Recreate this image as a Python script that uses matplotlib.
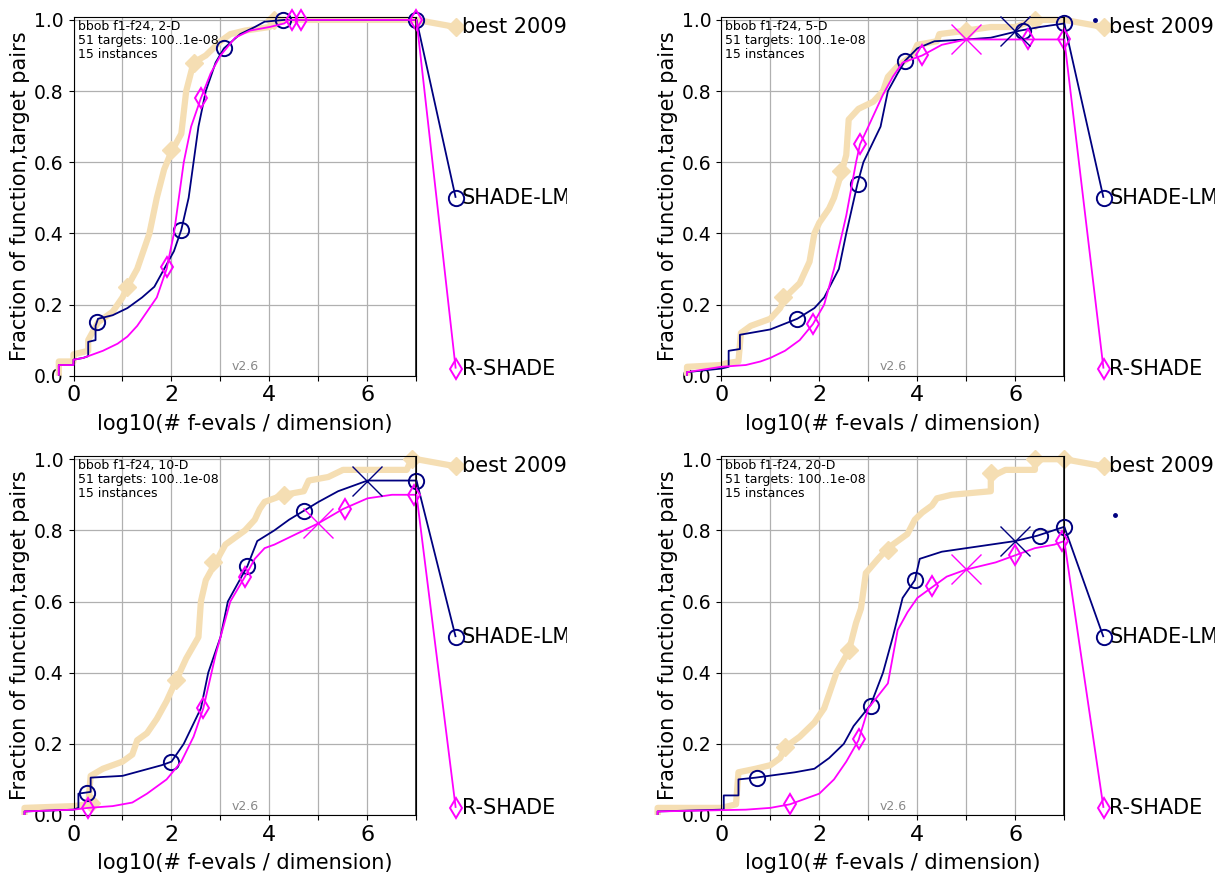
import matplotlib
matplotlib.use('Agg')
import matplotlib.pyplot as plt
from matplotlib.transforms import Bbox, TransformedBbox

# ECDF of runtimes (fraction of function,target pairs) on bbob f1-f24
dims = [2, 5, 10, 20]
algs = ['best 2009', 'SHADE-LM', 'R-SHADE']

# ---- 2-D ----
best_x_2 = [-0.30, -0.30, 0.00, 0.00, 0.30, 0.30, 0.50, 0.80, 1.00, 1.10, 1.30, 1.55, 1.70, 1.85, 2.00,
            2.20, 2.30, 2.45, 2.70, 3.00, 3.20, 3.50, 4.00, 4.20, 7.00]
best_y_2 = [0.00, 0.04, 0.04, 0.06, 0.07, 0.10, 0.15, 0.18, 0.22, 0.25, 0.30, 0.40, 0.50, 0.58, 0.63,
            0.68, 0.80, 0.88, 0.90, 0.94, 0.96, 0.97, 0.98, 1.00, 1.00]
best_mx_2 = [1.10, 2.00, 2.45, 4.10]
best_my_2 = [0.25, 0.635, 0.88, 1.00]
shade_x_2 = [-0.30, -0.30, 0.00, 0.00, 0.20, 0.30, 0.30, 0.45, 0.45, 0.50, 0.80, 1.10, 1.40, 1.65, 1.85,
             2.05, 2.20, 2.35, 2.45, 2.55, 2.70, 2.90, 3.07, 3.40, 3.70, 3.90, 4.30, 7.00]
shade_y_2 = [0.00, 0.03, 0.03, 0.045, 0.05, 0.055, 0.095, 0.10, 0.14, 0.16, 0.17, 0.19, 0.22, 0.25, 0.30,
             0.35, 0.41, 0.50, 0.60, 0.70, 0.80, 0.88, 0.92, 0.96, 0.98, 0.995, 1.00, 1.00]
shade_mx_2 = [0.48, 2.20, 3.07, 4.28, 7.00]
shade_my_2 = [0.15, 0.41, 0.92, 1.00, 1.00]
rshade_x_2 = [-0.30, -0.30, 0.00, 0.00, 0.20, 0.40, 0.60, 0.90, 1.10, 1.30, 1.50, 1.70, 1.90, 2.05, 2.15,
              2.25, 2.40, 2.60, 2.80, 3.00, 3.30, 3.60, 4.00, 4.30, 4.40, 7.00]
rshade_y_2 = [0.00, 0.03, 0.03, 0.045, 0.05, 0.06, 0.07, 0.09, 0.11, 0.14, 0.18, 0.22, 0.30, 0.40, 0.50,
              0.60, 0.70, 0.78, 0.85, 0.90, 0.95, 0.97, 0.98, 0.99, 1.00, 1.00]
rshade_mx_2 = [1.90, 2.60, 4.45, 4.65, 7.00]
rshade_my_2 = [0.305, 0.78, 1.00, 1.00, 1.00]

# ---- 5-D ----
best_x_5 = [-0.70, -0.70, 0.00, 0.10, 0.35, 0.40, 0.60, 1.00, 1.20, 1.30, 1.60, 1.80, 1.90, 2.00, 2.20,
            2.30, 2.45, 2.55, 2.60, 2.80, 3.10, 3.30, 3.40, 3.60, 3.90, 4.00, 4.40, 4.45, 5.00, 5.50,
            6.00, 6.40, 7.00]
best_y_5 = [0.00, 0.025, 0.03, 0.035, 0.04, 0.12, 0.14, 0.16, 0.19, 0.22, 0.26, 0.32, 0.40, 0.43, 0.47,
            0.50, 0.57, 0.62, 0.72, 0.75, 0.77, 0.80, 0.84, 0.87, 0.90, 0.93, 0.94, 0.96, 0.97, 0.98,
            0.98, 1.00, 1.00]
best_mx_5 = [1.25, 2.45, 5.00, 6.40]
best_my_5 = [0.22, 0.575, 0.97, 1.00]
shade_x_5 = [-0.70, -0.70, 0.00, 0.15, 0.15, 0.38, 0.38, 1.00, 1.55, 1.90, 2.10, 2.40, 2.55, 2.78, 2.90,
             3.25, 3.40, 3.60, 3.75, 4.00, 4.35, 5.00, 5.50, 6.10, 6.50, 7.00]
shade_y_5 = [0.00, 0.01, 0.02, 0.025, 0.07, 0.075, 0.115, 0.13, 0.16, 0.19, 0.22, 0.30, 0.40, 0.54, 0.60,
             0.70, 0.80, 0.85, 0.885, 0.92, 0.94, 0.945, 0.95, 0.97, 0.98, 0.99]
shade_mx_5 = [1.55, 2.78, 3.75, 6.15, 7.00]
shade_my_5 = [0.16, 0.54, 0.885, 0.97, 0.99]
rshade_x_5 = [-0.70, -0.70, 0.00, 0.50, 0.80, 1.00, 1.30, 1.60, 1.87, 2.10, 2.30, 2.55, 2.75, 2.83, 3.00,
              3.30, 3.50, 3.70, 4.10, 4.50, 5.00, 7.00]
rshade_y_5 = [0.00, 0.01, 0.025, 0.03, 0.04, 0.05, 0.07, 0.10, 0.145, 0.20, 0.30, 0.45, 0.60, 0.65, 0.70,
              0.79, 0.84, 0.88, 0.90, 0.93, 0.945, 0.945]
rshade_mx_5 = [1.87, 2.83, 4.10, 6.25, 7.00]
rshade_my_5 = [0.145, 0.65, 0.90, 0.945, 0.945]

# ---- 10-D ----
best_x_10 = [-1.00, -1.00, 0.00, 0.30, 0.35, 0.60, 1.00, 1.20, 1.30, 1.50, 1.70, 1.90, 2.10, 2.30, 2.55,
             2.60, 2.70, 2.90, 3.10, 3.50, 3.70, 3.80, 3.90, 4.30, 4.70, 4.80, 5.20, 5.50, 6.80, 6.90, 7.00]
best_y_10 = [0.00, 0.02, 0.025, 0.03, 0.11, 0.13, 0.15, 0.17, 0.21, 0.23, 0.27, 0.32, 0.38, 0.44, 0.50,
             0.60, 0.66, 0.71, 0.76, 0.80, 0.83, 0.86, 0.88, 0.90, 0.91, 0.94, 0.95, 0.97, 0.97, 1.00, 1.00]
best_mx_10 = [0.35, 2.10, 2.85, 4.30, 6.90]
best_my_10 = [0.035, 0.38, 0.71, 0.90, 1.00]
shade_x_10 = [-1.00, -1.00, 0.00, 0.10, 0.10, 0.35, 0.35, 1.00, 1.40, 1.80, 2.00, 2.25, 2.60, 2.75, 3.00,
              3.15, 3.35, 3.55, 3.75, 4.10, 4.40, 4.70, 5.00, 5.40, 5.80, 6.00, 7.00]
shade_y_10 = [0.00, 0.01, 0.015, 0.02, 0.06, 0.065, 0.105, 0.11, 0.125, 0.14, 0.15, 0.20, 0.30, 0.40, 0.50,
              0.60, 0.65, 0.70, 0.77, 0.80, 0.83, 0.855, 0.88, 0.91, 0.93, 0.94, 0.94]
shade_mx_10 = [0.28, 2.00, 3.55, 4.70, 7.00]
shade_my_10 = [0.063, 0.15, 0.70, 0.855, 0.94]
rshade_x_10 = [-1.00, -1.00, 0.00, 0.30, 0.80, 1.20, 1.50, 1.90, 2.20, 2.45, 2.65, 2.90, 3.20, 3.50, 3.70,
               3.90, 4.10, 4.40, 4.70, 5.00, 5.50, 6.00, 6.50, 7.00]
rshade_y_10 = [0.00, 0.01, 0.015, 0.02, 0.025, 0.035, 0.06, 0.10, 0.15, 0.22, 0.30, 0.45, 0.60, 0.67, 0.72,
               0.75, 0.76, 0.78, 0.80, 0.82, 0.86, 0.89, 0.90, 0.90]
rshade_mx_10 = [0.30, 2.65, 3.50, 5.55, 6.95]
rshade_my_10 = [0.02, 0.30, 0.67, 0.86, 0.90]

# ---- 20-D ----
best_x_20 = [-1.30, -1.30, 0.00, 0.30, 0.35, 0.70, 1.00, 1.20, 1.30, 1.60, 1.90, 2.10, 2.35, 2.60, 2.75,
             2.85, 2.95, 3.20, 3.40, 3.80, 3.95, 4.10, 4.30, 4.40, 4.70, 5.50, 5.50, 5.80, 6.40, 6.40, 7.00]
best_y_20 = [0.00, 0.02, 0.02, 0.03, 0.12, 0.13, 0.14, 0.16, 0.19, 0.22, 0.26, 0.30, 0.40, 0.46, 0.54,
             0.58, 0.68, 0.72, 0.75, 0.79, 0.83, 0.85, 0.87, 0.89, 0.90, 0.91, 0.95, 0.97, 0.97, 1.00, 1.00]
best_mx_20 = [1.30, 2.60, 3.40, 5.50, 6.40, 7.00]
best_my_20 = [0.19, 0.465, 0.745, 0.96, 1.00, 1.00]
shade_x_20 = [-1.30, -1.30, 0.00, 0.05, 0.05, 0.35, 0.35, 0.70, 1.50, 1.90, 2.20, 2.50, 2.70, 3.05, 3.30,
              3.50, 3.70, 3.95, 4.05, 4.50, 5.00, 5.50, 6.00, 6.45, 7.00]
shade_y_20 = [0.00, 0.01, 0.015, 0.015, 0.055, 0.055, 0.10, 0.105, 0.12, 0.13, 0.16, 0.20, 0.25, 0.31, 0.40,
              0.50, 0.61, 0.66, 0.72, 0.74, 0.75, 0.76, 0.77, 0.785, 0.81]
shade_mx_20 = [0.72, 3.05, 3.95, 6.50, 7.00]
shade_my_20 = [0.105, 0.305, 0.66, 0.785, 0.81]
rshade_x_20 = [-1.30, -1.30, 0.50, 1.00, 1.40, 2.00, 2.30, 2.55, 2.80, 3.00, 3.40, 3.60, 3.80, 4.00, 4.30,
               4.60, 5.00, 5.60, 6.00, 6.40, 6.80, 7.00]
rshade_y_20 = [0.00, 0.01, 0.015, 0.02, 0.03, 0.06, 0.10, 0.15, 0.21, 0.30, 0.37, 0.52, 0.57, 0.61, 0.64,
               0.67, 0.69, 0.71, 0.73, 0.75, 0.76, 0.77]
rshade_mx_20 = [1.40, 2.80, 4.30, 6.00, 6.95]
rshade_my_20 = [0.03, 0.215, 0.645, 0.73, 0.77]

# median of max. evaluations (big crosses): (x, y) for SHADE-LM and R-SHADE, per dimension
shade_cross = {2: None, 5: (6.0, 0.97), 10: (6.0, 0.94), 20: (6.0, 0.77)}
rshade_cross = {2: None, 5: (5.0, 0.945), 10: (5.0, 0.82), 20: (5.0, 0.69)}
# stray small dots next to the labels
dots = {2: None, 5: (7.62, 1.0), 10: None, 20: (8.04, 0.843)}

# label anchor positions right of the budget line
label_x = 7.8
label_y = [0.98, 0.50, 0.02]

curves = {
    2: [(best_x_2, best_y_2, best_mx_2, best_my_2), (shade_x_2, shade_y_2, shade_mx_2, shade_my_2),
        (rshade_x_2, rshade_y_2, rshade_mx_2, rshade_my_2)],
    5: [(best_x_5, best_y_5, best_mx_5, best_my_5), (shade_x_5, shade_y_5, shade_mx_5, shade_my_5),
        (rshade_x_5, rshade_y_5, rshade_mx_5, rshade_my_5)],
    10: [(best_x_10, best_y_10, best_mx_10, best_my_10), (shade_x_10, shade_y_10, shade_mx_10, shade_my_10),
         (rshade_x_10, rshade_y_10, rshade_mx_10, rshade_my_10)],
    20: [(best_x_20, best_y_20, best_mx_20, best_my_20), (shade_x_20, shade_y_20, shade_mx_20, shade_my_20),
         (rshade_x_20, rshade_y_20, rshade_mx_20, rshade_my_20)],
}

styles = [
    dict(color='wheat', lw=4.5, marker='D', ms=9, mfc='wheat', mec='wheat', mew=1.0, zorder=2),
    dict(color='navy', lw=1.3, marker='o', ms=11, mfc='none', mec='navy', mew=1.4, zorder=3),
    dict(color='magenta', lw=1.3, marker='d', ms=10, mfc='none', mec='magenta', mew=1.4, zorder=4),
]

W, H = 1222, 875
# axes origin (x=0, y=0) in pixels, and width/height in pixels
origins = [(73.5, 375.7), (721.3, 375.7), (73.5, 815.0), (721.3, 815.0)]
ax_w, ax_h = 343.0, 359.0
clip_right = [567, 1215, 567, 1215]

fig = plt.figure(figsize=(W / 100, H / 100), dpi=100)

for k, dim in enumerate(dims):
    x0, y0 = origins[k]
    ax = fig.add_axes([x0 / W, (H - y0) / H, ax_w / W, ax_h / H])
    clipbox = TransformedBbox(Bbox.from_extents(0, 0, clip_right[k] / W, 1), fig.transFigure)

    for j, (xs, ys, mx, my) in enumerate(curves[dim]):
        st = styles[j]
        line_kw = dict(color=st['color'], lw=st['lw'], zorder=st['zorder'], clip_on=False,
                       solid_capstyle='butt')
        ax.plot(xs + [label_x], ys + [label_y[j]], **line_kw)
        mk_kw = dict(ls='none', marker=st['marker'], ms=st['ms'], mfc=st['mfc'], mec=st['mec'],
                     mew=st['mew'], zorder=st['zorder'] + 0.5, clip_on=False)
        ax.plot(mx + [label_x], my + [label_y[j]], **mk_kw)
        t = ax.text(label_x + 0.12, label_y[j], algs[j], fontsize=15, ha='left', va='center')
        t.set_clip_box(clipbox)
        t.set_clip_on(True)

    if shade_cross[dim] is not None:
        ax.plot([shade_cross[dim][0]], [shade_cross[dim][1]], marker='x', ms=21, mew=1.0,
                color='navy', ls='none', zorder=5, clip_on=False)
    if rshade_cross[dim] is not None:
        ax.plot([rshade_cross[dim][0]], [rshade_cross[dim][1]], marker='x', ms=21, mew=1.0,
                color='magenta', ls='none', zorder=5, clip_on=False)
    if dots[dim] is not None:
        ax.plot([dots[dim][0]], [dots[dim][1]], marker='.', ms=5, color='navy', ls='none',
                clip_on=False)

    ax.axvline(7, color='k', lw=1.8, zorder=6)
    ax.set_xlim(0, 7)
    ax.set_ylim(0, 1.009)
    ax.set_xticks(range(8))
    ax.set_xticklabels([str(i) if i % 2 == 0 else '' for i in range(8)], fontsize=16)
    ax.set_yticks([0.0, 0.2, 0.4, 0.6, 0.8, 1.0])
    ax.set_yticklabels(['0.0', '0.2', '0.4', '0.6', '0.8', '1.0'], fontsize=13.5)
    ax.grid(True, color='#b0b0b0', lw=0.9)
    ax.set_axisbelow(True)
    ax.set_xlabel('log10(# f-evals / dimension)', fontsize=15, labelpad=6)
    ax.set_ylabel('Fraction of function,target pairs', fontsize=15, labelpad=3)

    ax.text(0.012, 0.992, 'bbob f1-f24, %d-D\n51 targets: 100..1e-08\n15 instances' % dim,
            transform=ax.transAxes, fontsize=9, ha='left', va='top', linespacing=1.1)
    ax.text(0.5, 0.025, 'v2.6', transform=ax.transAxes, fontsize=9, color='#888888',
            ha='center', va='center')

fig.savefig('out.png', dpi=100)
